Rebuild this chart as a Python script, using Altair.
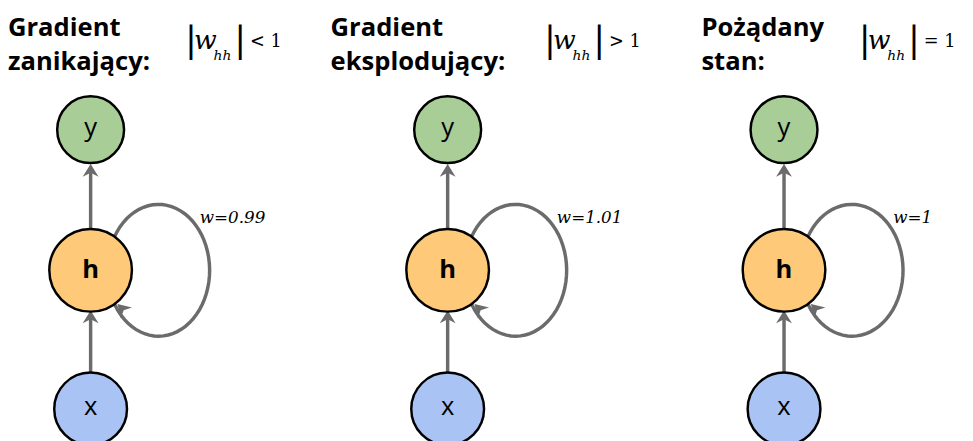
import altair as alt
import numpy as np
import pandas as pd

# panel anchors (pixel coords of the reference)
panel_x = [84, 447, 789]
title_x = [0, 328, 705]
title_l1 = ["Gradient", "Gradient", "Pożądany"]
title_l2 = ["zanikający:", "eksplodujący:", "stan:"]
formula_x = [180, 545, 865]
formula_op = ["< 1", "> 1", "= 1"]
loop_labels = ["w=0.99", "w=1.01", "w=1"]

node_names = ["y", "h", "x"]
node_y = [120, 263, 404]
node_r = [34, 42, 37]
node_fill = ["#a8cd97", "#fec979", "#a9c4f4"]
node_weight = ["normal", "bold", "normal"]

GREY = "#6b6b6b"
X = alt.X("x:Q", scale=alt.Scale(domain=[0, 973]), axis=None)
Y = alt.Y("y:Q", scale=alt.Scale(domain=[0, 441], reverse=True), axis=None)

nodes, arrows, heads, loops, labels = [], [], [], [], []
for p, cx in enumerate(panel_x):
    for n, yy, r, f, w in zip(node_names, node_y, node_r, node_fill, node_weight):
        nodes.append(dict(x=cx, y=yy, size=(2 * r) ** 2, fill=f, t=n, w=w))
    # straight arrows x->h, h->y
    for seg, (y0, y1) in enumerate([(367, 306), (221, 157)]):
        arrows.append(dict(x=cx, y=y0, k=f"{p}-{seg}", o=0))
        arrows.append(dict(x=cx, y=y1 + 6, k=f"{p}-{seg}", o=1))
        heads.append(dict(x=cx, y=y1 + 6, a=0))
    # recurrent loop
    ecx, ecy, rx, ry = cx + 69, 263, 52, 67
    ts = np.linspace(np.deg2rad(208), np.deg2rad(-212), 80)
    for i, t in enumerate(ts):
        loops.append(dict(x=ecx + rx * np.cos(t), y=ecy - ry * np.sin(t), k=p, o=i))
    heads.append(dict(x=cx + 33, y=303, a=315))
    labels.append(dict(x=cx + 111, y=210, t=loop_labels[p]))

nodes = pd.DataFrame(nodes)
circles = alt.Chart(nodes).mark_point(shape="circle", filled=True, stroke="black", strokeWidth=2.5, opacity=1).encode(
    x=X, y=Y, size=alt.Size("size:Q", scale=None), fill=alt.Fill("fill:N", scale=None))
ntext = alt.Chart(nodes[nodes.w == "normal"]).mark_text(fontSize=26, font="Open Sans", baseline="middle", dy=-2).encode(x=X, y=Y, text="t:N")
htext = alt.Chart(nodes[nodes.w == "bold"]).mark_text(fontSize=26, font="Open Sans", fontWeight="bold", baseline="middle").encode(x=X, y=Y, text="t:N")

lines = alt.Chart(pd.DataFrame(arrows)).mark_line(color=GREY, strokeWidth=3.5).encode(x=X, y=Y, detail="k:N", order="o:Q")
loopl = alt.Chart(pd.DataFrame(loops)).mark_line(color=GREY, strokeWidth=3.5).encode(x=X, y=Y, detail="k:N", order="o:Q")
arrowheads = alt.Chart(pd.DataFrame(heads)).mark_point(shape="M-1,0.6L0,-1L1,0.6L0,0.1Z", filled=True, color=GREY, size=260, opacity=1).encode(
    x=X, y=Y, angle=alt.Angle("a:Q", scale=None))
wlabels = alt.Chart(pd.DataFrame(labels)).mark_text(fontSize=17, font="DejaVu Serif", fontStyle="italic", align="left").encode(x=X, y=Y, text="t:N")

titles = pd.DataFrame(
    [dict(x=tx, y=17, t=a) for tx, a in zip(title_x, title_l1)]
    + [dict(x=tx, y=51, t=b) for tx, b in zip(title_x, title_l2)])
ttl = alt.Chart(titles).mark_text(fontSize=26, font="Open Sans", fontWeight="bold", align="left", baseline="middle").encode(x=X, y=Y, text="t:N")

bars = pd.DataFrame([dict(x=fx, y=30, t="|") for fx in formula_x] + [dict(x=fx + 50, y=30, t="|") for fx in formula_x])
fbars = alt.Chart(bars).mark_text(fontSize=36, font="DejaVu Serif", fontWeight="lighter", align="left", baseline="middle").encode(x=X, y=Y, text="t:N")
fw = alt.Chart(pd.DataFrame([dict(x=fx + 9, y=30, t="w") for fx in formula_x])).mark_text(
    fontSize=27, font="DejaVu Serif", fontStyle="italic", align="left", baseline="middle").encode(x=X, y=Y, text="t:N")
fhh = alt.Chart(pd.DataFrame([dict(x=fx + 29, y=45, t="hh") for fx in formula_x])).mark_text(
    fontSize=14, font="DejaVu Serif", fontStyle="italic", align="left", baseline="middle").encode(x=X, y=Y, text="t:N")
fop = alt.Chart(pd.DataFrame([dict(x=fx + 66, y=31, t=o) for fx, o in zip(formula_x, formula_op)])).mark_text(
    fontSize=18, font="DejaVu Serif", align="left", baseline="middle").encode(x=X, y=Y, text="t:N")

chart = alt.layer(lines, loopl, arrowheads, circles, ntext, htext, wlabels, ttl, fbars, fw, fhh, fop).properties(
    width=973, height=441, padding=0, autosize="none", background="white"
).configure_view(stroke=None)

chart.save("out.html", embed_options={"renderer": "svg", "actions": False})
